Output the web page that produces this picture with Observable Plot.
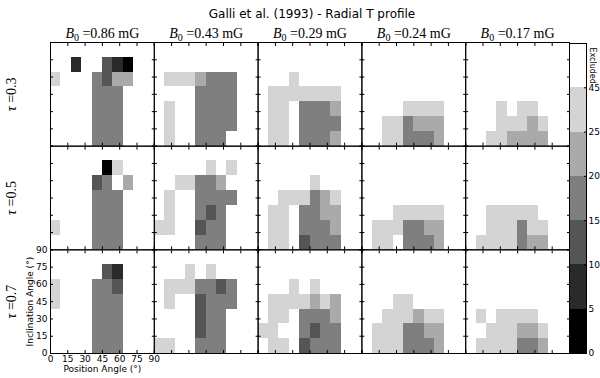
<!DOCTYPE html>
<html><head><meta charset="utf-8">
<script src="https://cdn.jsdelivr.net/npm/d3@7"></script>
<script src="https://cdn.jsdelivr.net/npm/@observablehq/plot@0.6"></script>
<style>
html,body{margin:0;padding:0;background:#fff;}
#chart{position:relative;width:600px;height:378px;overflow:hidden;background:#fff;}
#chart svg{position:absolute;top:0;}
</style></head><body><div id="chart"></div>
<script>
const title = "Galli et al. (1993) - Radial T profile";
const B0 = ["0.86", "0.43", "0.29", "0.24", "0.17"];
const tau = ["0.3", "0.5", "0.7"];
const positionAngleTicks = [0, 15, 30, 45, 60, 75, 90];
const inclinationTicks = [0, 15, 30, 45, 60, 75, 90];
const angleExtent = [0, 90];
const nPositionAngle = 10;
const nInclination = 7;
const xLabel = "Position Angle (°)";
const yLabel = "Inclination Angle (°)";
const bins = ["0–5", "5–10", "10–15", "15–20", "20–25", "25–45", "Excluded"];
const binColors = ["#000000", "#2a2a2a", "#555555", "#7f7f7f", "#aaaaaa", "#d4d4d4", "#ffffff"];
const colorbarTicks = ["0", "5", "10", "15", "20", "25", "45"];
// cell codes: 0 Excluded, 1 25–45, 2 20–25, 3 15–20, 4 10–15, 5 5–10, 6 0–5
const codeBins = ["Excluded", "25–45", "20–25", "15–20", "10–15", "5–10", "0–5"];
// rows listed from top (inclination 90) to bottom (0); one string per row, one char per position-angle column
const grid_tau03 = [
  ["0000000000","0050045600","1000342200","0000333000","0000333000","0000333000","0000333000"],
  ["0000000000","0000000000","0111233300","0000333300","0100333300","0100333300","0100333000"],
  ["0000000000","0000000000","0001000000","0111111100","0110333200","0110333300","0110333200"],
  ["0000000000","0000000000","0000000000","0000000000","0000111100","0011322200","0011333200"],
  ["0000000000","0000000000","0000000000","0000000000","0001011000","0001112100","0011222200"]
];
const grid_tau05 = [
  ["0000000000","0000061000","0000430200","0000333000","0000333000","1000333000","0000333000"],
  ["0000000000","0000010100","0011332000","0100333300","0100343000","1100433000","0000333000"],
  ["0000000000","0000000000","0000010000","0011132100","0110332200","0110333200","0110433300"],
  ["0000000000","0000000000","0000000000","0000000000","0001111100","0111332200","0110333200"],
  ["0000000000","0000000000","0000000000","0000000000","0011111000","0011131100","0111132200"]
];
const grid_tau07 = [
  ["0000000000","0000045000","1000334000","1000333000","0000333000","0000333000","0000333000"],
  ["0000000000","0001010000","0111334300","0100433300","0000433000","0000433000","1100333000"],
  ["0000000000","0000000000","0001010000","0111121200","0110333200","1100343300","0110433300"],
  ["0000000000","0000000000","0000000000","0001100000","0011121100","0111332200","0111333200"],
  ["0000000000","0000000000","0000000000","0000000000","0101111000","0011122100","0111133200"]
];

const grids = [grid_tau03, grid_tau05, grid_tau07];
const cw = (angleExtent[1] - angleExtent[0]) / nPositionAngle;
const ch = (angleExtent[1] - angleExtent[0]) / nInclination;
const cells = [];
grids.forEach((panels, ti) => panels.forEach((rows, bi) => rows.forEach((line, r) => [...line].forEach((code, c) => {
  cells.push({
    tau: tau[ti], B: B0[bi],
    pa0: angleExtent[0] + c * cw, pa1: angleExtent[0] + (c + 1) * cw,
    inc1: angleExtent[1] - r * ch, inc0: angleExtent[1] - (r + 1) * ch,
    bin: codeBins[+code]
  });
}))));

const serif = "'Liberation Serif', 'Times New Roman', serif";
const sans = "'DejaVu Sans', sans-serif";
const firstB = () => B0[0];
const lastTau = () => tau[tau.length - 1];

const main = Plot.plot({
  width: 600, height: 378,
  marginLeft: 50, marginRight: 31, marginTop: 42, marginBottom: 25,
  style: {background: "transparent", overflow: "visible", color: "black"},
  fx: {domain: B0, padding: 0, axis: null, round: false},
  fy: {domain: tau, padding: 0, axis: null, round: false},
  x: {domain: angleExtent},
  y: {domain: angleExtent},
  color: {type: "ordinal", domain: bins, range: binColors},
  marks: [
    Plot.rect(cells, {x1: "pa0", x2: "pa1", y1: "inc0", y2: "inc1", fx: "B", fy: "tau", fill: "bin", shapeRendering: "crispEdges"}),
    Plot.axisX({ticks: positionAngleTicks, anchor: "bottom", tickSize: -3, fill: "none", facetAnchor: null, label: null}),
    Plot.axisX({ticks: positionAngleTicks, anchor: "top", tickSize: -3, fill: "none", facetAnchor: null, label: null}),
    Plot.axisY({ticks: inclinationTicks, anchor: "left", tickSize: -3, fill: "none", facetAnchor: null, label: null}),
    Plot.axisY({ticks: inclinationTicks, anchor: "right", tickSize: -3, fill: "none", facetAnchor: null, label: null}),
    Plot.frame({stroke: "black"}),
    // tick labels on bottom-left panel only
    Plot.text(positionAngleTicks, {x: d => d, fx: firstB, fy: lastTau, frameAnchor: "bottom", lineAnchor: "top", dy: 2, fontSize: 9, fontFamily: sans, fill: "black"}),
    Plot.text(inclinationTicks, {y: d => d, fx: firstB, fy: lastTau, frameAnchor: "left", textAnchor: "end", dx: -3, fontSize: 9, fontFamily: sans, fill: "black"}),
    Plot.text([xLabel], {fx: firstB, fy: lastTau, frameAnchor: "bottom", lineAnchor: "top", dy: 12, fontSize: 9, fontFamily: sans, fill: "black"}),
    Plot.text([yLabel], {fx: firstB, fy: lastTau, frameAnchor: "left", textAnchor: "middle", rotate: -90, dx: -20, fontSize: 9, fontFamily: sans, fill: "black"}),
    // row labels
    Plot.text(tau, {fy: d => d, fx: firstB, frameAnchor: "left", textAnchor: "middle", rotate: -90, dx: -39, text: d => "τ =" + d, fontSize: 14, fontFamily: serif, fill: "black"}),
    // column headers
    Plot.text(B0, {fx: d => d, fy: () => tau[0], frameAnchor: "top", dy: -14, text: d => "B0 =" + d + " mG", fontSize: 14, fontFamily: serif, fill: "black"}),
    // title
    Plot.text([title], {fx: () => B0[2], fy: () => tau[0], frameAnchor: "top", dy: -33, dx: 2, fontSize: 12, fontFamily: sans, fill: "black"})
  ]
});

const cb = Plot.plot({
  width: 31, height: 378,
  marginLeft: 0, marginRight: 14, marginTop: 43, marginBottom: 25,
  style: {background: "transparent", overflow: "visible", color: "black"},
  x: {domain: [0, 1], axis: null},
  y: {domain: [0, bins.length]},
  color: {type: "ordinal", domain: bins, range: binColors},
  marks: [
    Plot.rect(bins, {x1: 0, x2: 1, y1: (d, i) => i, y2: (d, i) => i + 1, fill: d => d, shapeRendering: "crispEdges"}),
    Plot.frame({stroke: "black"}),
    Plot.axisY({ticks: d3.range(colorbarTicks.length), tickFormat: i => colorbarTicks[i], anchor: "right", tickSize: -3, tickPadding: 5, fontSize: 9, fontFamily: sans, label: null}),
    Plot.text([bins[bins.length - 1]], {x: 1, y: bins.length - 0.5, rotate: 90, dx: 6, fontSize: 8, fontFamily: sans, fill: "black"})
  ]
});

function richen(svg) {
  d3.select(svg).selectAll("text").each(function () {
    const s = this.textContent;
    const t = d3.select(this);
    if (s.startsWith("B0 =")) {
      const rest = s.slice(2);
      t.text(null);
      t.append("tspan").attr("font-style", "italic").text("B");
      t.append("tspan").attr("font-size", 10).attr("dy", 3).text("0");
      t.append("tspan").attr("dy", -3).text(rest);
    } else if (s.startsWith("τ =")) {
      const rest = s.slice(1);
      t.text(null);
      t.append("tspan").attr("font-style", "italic").text("τ");
      t.append("tspan").text(rest);
    }
  });
}
richen(main);

const chart = document.getElementById("chart");
main.style.left = "0px";
cb.style.left = "569px";
chart.appendChild(main);
chart.appendChild(cb);
</script></body></html>
